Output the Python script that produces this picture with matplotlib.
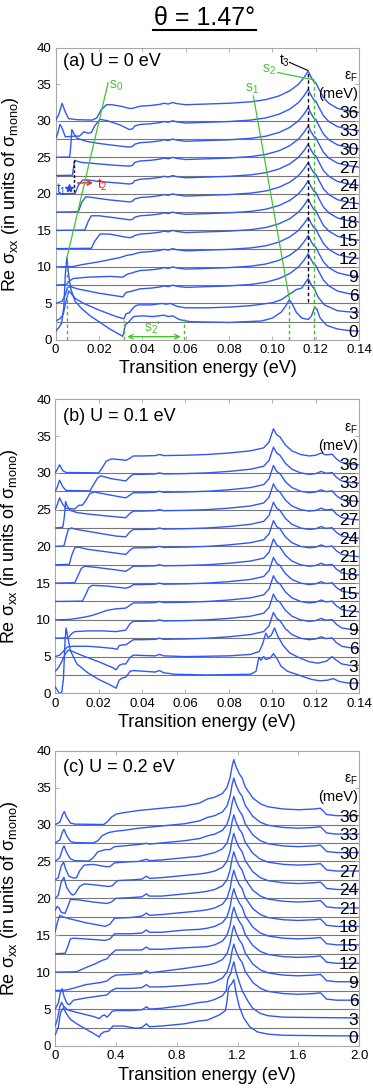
import matplotlib
matplotlib.use("Agg")
import matplotlib.pyplot as plt
from matplotlib.lines import Line2D

plt.rcParams['font.family'] = ['Liberation Sans', 'DejaVu Sans']
plt.rcParams['mathtext.fontset'] = 'custom'
plt.rcParams['mathtext.rm'] = 'Liberation Sans'
plt.rcParams['mathtext.it'] = 'Liberation Sans:italic'

# Fermi energies (meV), one curve each, stacked by 2.5 units
eps_f = [0, 3, 6, 9, 12, 15, 18, 21, 24, 27, 30, 33, 36]
step = 2.5

# ---------------- panel (a) U = 0 eV : (energy eV, Re sigma) ----------------
a0 = [(0, 1.2), (0.0015, 1.7), (0.0028, 2.3), (0.0038, 4.5), (0.0045, 9.0), (0.0052, 11.3),
      (0.006, 9.0), (0.007, 7.0), (0.009, 5.3), (0.012, 4.3), (0.016, 3.3), (0.02, 2.5),
      (0.025, 1.5), (0.031, 0.5), (0.0322, 2.1), (0.0335, 2.4), (0.035, 2.9), (0.036, 3.2)]
a3 = [(0, 0.1), (0.002, 0.4), (0.0035, 1.0), (0.0048, 2.8), (0.006, 4.2), (0.0068, 4.0),
      (0.009, 3.2), (0.013, 2.5), (0.02, 1.6), (0.028, 0.7), (0.0315, 0.4), (0.0325, 1.1),
      (0.034, 1.2), (0.035, 1.6), (0.0365, 2.1)]
a6 = [(0, 0), (0.003, 0.3), (0.0045, 1.2), (0.0055, 2.2), (0.007, 2.3), (0.01, 2.0),
      (0.02, 1.4), (0.031, 0.9), (0.0325, 1.5), (0.034, 1.6), (0.0355, 1.7)]
a9 = [(0, 0), (0.005, 0.1), (0.0065, 0.6), (0.008, 0.9), (0.015, 1.1), (0.025, 1.2),
      (0.031, 1.1), (0.033, 1.5), (0.0355, 1.7)]
a12 = [(0, 0), (0.008, 0.05), (0.012, 0.3), (0.016, 0.5), (0.02, 0.7), (0.025, 1.0),
       (0.03, 1.3), (0.033, 1.6), (0.0355, 1.7)]
a15 = [(0, 0), (0.0165, 0.05), (0.018, 1.0), (0.0205, 2.0), (0.025, 2.0), (0.03, 1.7),
       (0.034, 1.5), (0.0355, 1.6)]
a18 = [(0, 0), (0.0135, 0.05), (0.015, 1.2), (0.0165, 2.0), (0.02, 2.0), (0.028, 1.7),
       (0.034, 1.45), (0.0355, 1.5)]
a21 = [(0, 0), (0.0105, 0.05), (0.012, 1.3), (0.014, 2.1), (0.017, 2.0), (0.024, 1.7),
       (0.034, 1.4), (0.0355, 1.5)]
a24 = [(0, 0), (0.009, 0.05), (0.0105, 1.2), (0.0125, 1.9), (0.015, 1.9), (0.02, 1.7),
       (0.028, 1.5), (0.034, 1.35), (0.0355, 1.45)]
a27 = [(0, 0), (0.0078, 0.05), (0.0083, 1.2), (0.0088, 2.1), (0.0095, 2.0), (0.012, 1.8),
       (0.02, 1.6), (0.028, 1.4), (0.034, 1.3), (0.0355, 1.4)]
a30 = [(0, 0), (0.0065, 0.05), (0.007, 1.5), (0.0075, 3.8), (0.0085, 3.2), (0.01, 2.6),
       (0.014, 2.2), (0.02, 1.9), (0.028, 1.6), (0.034, 1.4), (0.0355, 1.5)]
a33 = [(0, 0), (0.001, 0.8), (0.002, 2.0), (0.003, 1.5), (0.0045, 0.3), (0.009, 0.4),
       (0.011, 0.4), (0.013, 1.0), (0.015, 0.8), (0.0165, 0.9), (0.018, 1.8), (0.0205, 2.7),
       (0.024, 2.5), (0.03, 1.9), (0.034, 1.3), (0.0355, 1.4)]
a36 = [(0, 0), (0.0015, 0.9), (0.003, 2.4), (0.0045, 1.2), (0.006, 0.3), (0.01, 0.15),
       (0.017, 0.1), (0.019, 0.4), (0.021, 1.5), (0.0235, 2.2), (0.026, 2.2), (0.03, 2.0),
       (0.034, 1.7), (0.0355, 1.7)]
a0_tail = [(0.04, 3.3), (0.045, 3.2), (0.05, 3.4), (0.052, 3.2), (0.054, 3.3), (0.057, 2.8),
           (0.062, 2.5), (0.08, 2.4), (0.095, 2.6), (0.1, 3.0), (0.104, 3.8), (0.106, 4.6),
           (0.1078, 5.5), (0.109, 5.0), (0.111, 3.8), (0.1135, 3.0), (0.1165, 2.8),
           (0.118, 3.3), (0.1195, 4.5), (0.1205, 4.2), (0.122, 3.0), (0.125, 2.0),
           (0.13, 1.5), (0.135, 1.3), (0.14, 1.2)]
a3_tail = [(0.038, 2.3), (0.044, 2.3), (0.049, 2.5), (0.051, 2.4), (0.053, 2.5), (0.056, 2.1),
           (0.06, 1.9), (0.07, 1.9), (0.08, 2.0), (0.09, 2.2), (0.1, 2.6), (0.104, 3.0),
           (0.107, 3.6), (0.111, 4.4), (0.1135, 4.6), (0.1155, 5.5), (0.1165, 5.9),
           (0.118, 5.0), (0.1195, 4.4), (0.121, 3.4), (0.124, 2.3), (0.13, 1.5),
           (0.135, 1.35), (0.14, 1.3)]
a_tail = [(0.0365, 1.8), (0.039, 2.0), (0.044, 2.1), (0.048, 2.25), (0.05, 2.4), (0.052, 2.3),
          (0.054, 2.5), (0.056, 2.35), (0.06, 2.2), (0.07, 2.3), (0.08, 2.4), (0.09, 2.6),
          (0.097, 2.9), (0.103, 3.4), (0.108, 4.1), (0.112, 5.0), (0.1145, 5.9),
          (0.1165, 6.8), (0.1178, 6.0), (0.119, 5.4), (0.12, 5.2), (0.1215, 4.3),
          (0.1235, 3.2), (0.126, 2.4), (0.13, 1.7), (0.135, 1.35), (0.14, 1.15)]

# ---------------- panel (b) U = 0.1 eV ----------------
b0 = [(0, 0.9), (0.001, 0.4), (0.002, 0.0), (0.003, 0.1), (0.0038, 2.0), (0.0045, 7.0),
      (0.005, 8.9), (0.0057, 7.8), (0.007, 5.8), (0.01, 4.0), (0.015, 2.8), (0.02, 1.9),
      (0.025, 1.2), (0.028, 0.7), (0.0295, 1.8), (0.031, 2.1), (0.0325, 2.2)]
b3 = [(0, 0.5), (0.0015, 1.0), (0.003, 1.8), (0.0045, 2.8), (0.006, 3.4), (0.008, 3.2),
      (0.012, 2.7), (0.02, 1.8), (0.0265, 1.0), (0.028, 0.7), (0.0295, 1.3), (0.031, 1.5),
      (0.0325, 1.5)]
b6 = [(0, 0), (0.002, 0.2), (0.004, 0.8), (0.0055, 1.3), (0.008, 1.4), (0.015, 1.4),
      (0.02, 1.3), (0.027, 1.1), (0.0285, 1.0), (0.0295, 1.5), (0.031, 1.6), (0.0325, 1.6)]
b9 = [(0, 0), (0.006, 0.05), (0.0075, 0.6), (0.009, 0.9), (0.015, 1.0), (0.022, 1.0),
      (0.028, 0.9), (0.0325, 1.1)]
b12 = [(0, 0), (0.006, 0.05), (0.01, 0.2), (0.014, 0.4), (0.017, 0.6), (0.02, 0.9),
       (0.024, 1.3), (0.028, 1.5), (0.0325, 1.6)]
b15 = [(0, 0), (0.0125, 0.05), (0.014, 0.9), (0.0155, 1.9), (0.017, 2.2), (0.024, 2.1),
       (0.0325, 1.8)]
b18 = [(0, 0), (0.009, 0.05), (0.0105, 1.0), (0.012, 2.0), (0.0135, 2.3), (0.02, 2.1),
       (0.028, 1.8), (0.0325, 1.6)]
b21 = [(0, 0), (0.0065, 0.05), (0.0075, 1.2), (0.009, 2.3), (0.0105, 2.4), (0.015, 2.1),
       (0.025, 1.7), (0.0325, 1.4)]
b24 = [(0, 0), (0.004, 0.05), (0.005, 1.2), (0.006, 2.3), (0.0075, 2.5), (0.01, 2.3),
       (0.02, 1.8), (0.028, 1.4), (0.0325, 1.3)]
b27 = [(0, 0), (0.0035, 0.1), (0.0042, 1.5), (0.0048, 3.6), (0.0055, 3.0), (0.007, 2.4),
       (0.01, 2.1), (0.015, 1.9), (0.025, 1.6), (0.0325, 1.4)]
b30 = [(0, 0), (0.001, 0.7), (0.002, 1.6), (0.0035, 0.7), (0.005, 0.15), (0.009, 0.1),
       (0.011, 0.6), (0.0125, 0.6), (0.014, 1.2), (0.016, 2.2), (0.018, 2.4), (0.025, 2.0),
       (0.0325, 1.6)]
b33 = [(0, 0), (0.001, 0.6), (0.002, 1.5), (0.0035, 0.6), (0.005, 0.1), (0.016, 0.05),
       (0.0175, 0.8), (0.0195, 1.8), (0.021, 2.1), (0.026, 1.7), (0.0325, 1.4)]
b36 = [(0, 0), (0.001, 0.5), (0.002, 1.1), (0.0035, 0.3), (0.005, 0.05), (0.02, 0.0),
       (0.0215, 0.6), (0.0235, 1.6), (0.026, 1.9), (0.03, 1.8), (0.0325, 1.7)]
b0_tail = [(0.0345, 3.0), (0.036, 3.1), (0.046, 2.9), (0.048, 3.1), (0.05, 2.8), (0.055, 2.6),
           (0.07, 2.5), (0.09, 2.6), (0.0925, 3.0), (0.0938, 4.9), (0.0948, 4.5), (0.096, 5.0),
           (0.097, 4.6), (0.099, 4.8), (0.1005, 5.4), (0.102, 4.8), (0.104, 3.7), (0.107, 3.0),
           (0.11, 2.7), (0.115, 2.2), (0.118, 1.9), (0.122, 1.7), (0.1255, 1.8), (0.128, 2.0),
           (0.131, 1.6), (0.135, 1.4), (0.14, 1.4)]
b3_tail = [(0.0345, 2.4), (0.036, 2.7), (0.046, 2.6), (0.048, 2.8), (0.05, 2.6), (0.06, 2.5),
           (0.08, 2.6), (0.09, 2.8), (0.094, 3.2), (0.0955, 4.2), (0.097, 5.7), (0.098, 5.1),
           (0.0995, 5.4), (0.101, 6.4), (0.1025, 5.3), (0.105, 4.0), (0.108, 3.0), (0.112, 2.4),
           (0.117, 1.8), (0.121, 1.6), (0.125, 1.9), (0.1275, 2.5), (0.129, 2.1), (0.132, 1.5),
           (0.136, 1.3), (0.14, 1.3)]
b_tail = [(0.0345, 2.0), (0.036, 2.3), (0.04, 2.3), (0.046, 2.35), (0.048, 2.5), (0.05, 2.35),
          (0.06, 2.4), (0.07, 2.5), (0.08, 2.7), (0.09, 3.0), (0.096, 3.4), (0.0985, 4.2),
          (0.1005, 6.0), (0.102, 5.2), (0.1035, 4.9), (0.106, 3.8), (0.109, 3.0), (0.113, 2.5),
          (0.117, 2.3), (0.12, 2.4), (0.1225, 2.7), (0.1245, 2.45), (0.1265, 2.5),
          (0.1275, 2.55), (0.1295, 1.9), (0.132, 1.4), (0.136, 1.2), (0.14, 1.1)]

# ---------------- panel (c) U = 0.2 eV ----------------
c0 = [(0, 1.5), (0.02, 2.5), (0.035, 4.5), (0.055, 5.2), (0.07, 4.5), (0.1, 3.6), (0.15, 2.9),
      (0.2, 2.3), (0.26, 1.6), (0.29, 1.2), (0.3, 1.6), (0.32, 1.9), (0.35, 2.0), (0.38, 2.7),
      (0.45, 2.7), (0.53, 2.4), (0.57, 2.5), (0.6, 3.0), (0.62, 2.6), (0.7, 2.7), (0.85, 3.0),
      (0.95, 3.4)]
c3 = [(0, 0.2), (0.015, 1.2), (0.03, 2.8), (0.042, 3.4), (0.055, 2.9), (0.08, 2.4),
      (0.15, 2.0), (0.25, 1.5), (0.29, 1.2), (0.31, 1.6), (0.325, 1.7), (0.34, 1.4),
      (0.355, 1.7), (0.375, 2.2), (0.4, 2.3), (0.5, 2.3), (0.57, 2.4), (0.6, 2.8), (0.62, 2.5),
      (0.7, 2.6), (0.85, 3.0), (0.95, 3.4)]
c6 = [(0, 0), (0.02, 0.8), (0.035, 2.3), (0.045, 2.75), (0.06, 1.6), (0.08, 0.7), (0.095, 0.6),
      (0.12, 1.2), (0.2, 1.5), (0.3, 1.8), (0.34, 1.9), (0.37, 2.5), (0.4, 2.8), (0.5, 2.8),
      (0.57, 2.9), (0.6, 3.3), (0.62, 3.0), (0.7, 3.0), (0.85, 3.2), (0.95, 3.4)]
c9 = [(0, 0), (0.08, 0.1), (0.15, 0.5), (0.2, 0.8), (0.3, 1.1), (0.34, 1.3), (0.37, 1.8),
      (0.4, 2.1), (0.5, 2.2), (0.57, 2.3), (0.6, 2.7), (0.62, 2.4), (0.7, 2.6), (0.85, 3.0),
      (0.95, 3.3)]
c12 = [(0, 0), (0.14, 0.05), (0.2, 0.6), (0.26, 1.1), (0.31, 1.6), (0.34, 1.8), (0.37, 2.5),
       (0.4, 3.0), (0.5, 3.0), (0.57, 3.0), (0.6, 3.4), (0.62, 3.1), (0.7, 3.1), (0.85, 3.3),
       (0.95, 3.4)]
c15 = [(0, 0), (0.065, 0.05), (0.08, 0.8), (0.1, 2.0), (0.12, 2.1), (0.2, 2.0), (0.33, 1.8),
       (0.36, 2.0), (0.39, 2.7), (0.5, 2.7), (0.57, 2.8), (0.6, 3.2), (0.62, 2.9), (0.7, 2.9),
       (0.85, 3.2), (0.95, 3.3)]
c18 = [(0, 0.5), (0.015, 1.8), (0.03, 2.7), (0.05, 2.5), (0.1, 2.2), (0.2, 1.7), (0.33, 1.2),
       (0.36, 1.5), (0.39, 2.3), (0.5, 2.4), (0.57, 2.6), (0.6, 3.0), (0.62, 2.7), (0.7, 2.8),
       (0.85, 3.1), (0.95, 3.3)]
c21 = [(0, 0.9), (0.013, 1.4), (0.025, 1.2), (0.04, 0.6), (0.065, 0.45), (0.085, 1.5),
       (0.1, 2.35), (0.15, 2.3), (0.25, 2.0), (0.34, 1.8), (0.37, 2.0), (0.4, 2.5), (0.5, 2.6),
       (0.57, 2.7), (0.6, 3.1), (0.62, 2.8), (0.7, 2.8), (0.85, 3.1), (0.95, 3.3)]
c24 = [(0, 0), (0.02, 0.4), (0.04, 2.2), (0.057, 2.85), (0.075, 1.5), (0.1, 0.7), (0.113, 0.45),
       (0.13, 0.6), (0.16, 1.6), (0.19, 1.95), (0.25, 1.85), (0.35, 1.6), (0.375, 1.7),
       (0.41, 2.4), (0.5, 2.5), (0.57, 2.6), (0.6, 3.0), (0.62, 2.7), (0.7, 2.8), (0.85, 3.1),
       (0.95, 3.3)]
c27 = [(0, 0), (0.02, 0.3), (0.04, 1.9), (0.055, 2.4), (0.07, 1.4), (0.09, 0.5), (0.12, 0.25),
       (0.14, 0.3), (0.16, 1.2), (0.19, 2.0), (0.25, 2.1), (0.33, 1.8), (0.36, 1.8), (0.39, 2.3),
       (0.45, 2.4), (0.55, 2.5), (0.6, 2.8), (0.62, 2.6), (0.7, 2.7), (0.85, 3.0), (0.95, 3.2)]
c30 = [(0, 0), (0.03, 0.5), (0.05, 1.8), (0.058, 2.1), (0.075, 1.2), (0.1, 0.35), (0.13, 0.1),
       (0.22, 0.05), (0.25, 0.5), (0.28, 1.3), (0.33, 1.6), (0.36, 1.6), (0.39, 2.0),
       (0.45, 2.1), (0.55, 2.3), (0.6, 2.45), (0.62, 2.35), (0.7, 2.5), (0.85, 2.8), (0.95, 3.1)]
c33 = [(0, 0), (0.03, 0.4), (0.05, 1.6), (0.058, 1.85), (0.075, 1.0), (0.1, 0.2), (0.13, 0.05),
       (0.25, 0.0), (0.28, 0.3), (0.31, 1.0), (0.35, 1.4), (0.4, 1.6), (0.45, 1.7), (0.55, 2.0),
       (0.6, 2.1), (0.7, 2.3), (0.85, 2.6), (0.95, 3.0)]
c36 = [(0, 0), (0.03, 0.3), (0.05, 1.4), (0.06, 1.75), (0.075, 1.0), (0.1, 0.2), (0.13, 0.05),
       (0.32, 0.0), (0.345, 0.4), (0.37, 1.0), (0.4, 1.4), (0.45, 1.6), (0.55, 1.9), (0.6, 2.0),
       (0.7, 2.2), (0.85, 2.5), (0.95, 2.9)]
c0_tail = [(1.0, 3.5), (1.08, 4.2), (1.12, 4.8), (1.13, 6.0), (1.14, 7.8), (1.15, 8.2),
           (1.16, 8.4), (1.175, 9.0), (1.19, 7.2), (1.21, 5.4), (1.24, 3.8), (1.28, 2.6),
           (1.33, 1.9), (1.4, 1.6), (1.5, 1.45), (1.7, 1.4), (2.0, 1.35)]
c3_tail = [(1.0, 3.5), (1.05, 3.8), (1.1, 4.3), (1.125, 5.0), (1.135, 6.5), (1.145, 7.0),
           (1.155, 7.3), (1.165, 8.2), (1.175, 8.9), (1.19, 7.5), (1.21, 6.2), (1.23, 5.0),
           (1.27, 3.5), (1.3, 2.6), (1.35, 1.9), (1.4, 1.6), (1.5, 1.4), (1.7, 1.35), (2.0, 1.3)]
c_tail = [(1.0, 3.45), (1.05, 3.7), (1.1, 4.2), (1.13, 5.0), (1.15, 6.3), (1.165, 8.0),
          (1.175, 8.8), (1.19, 7.8), (1.21, 6.9), (1.23, 6.3), (1.25, 5.1), (1.3, 3.6),
          (1.35, 2.8), (1.4, 2.4), (1.5, 2.1), (1.6, 2.0), (1.7, 2.1), (1.745, 2.2),
          (1.765, 1.8), (1.785, 1.35), (1.85, 1.2), (2.0, 1.2)]

a_heads = [a0, a3, a6, a9, a12, a15, a18, a21, a24, a27, a30, a33, a36]
b_heads = [b0, b3, b6, b9, b12, b15, b18, b21, b24, b27, b30, b33, b36]
c_heads = [c0, c3, c6, c9, c12, c15, c18, c21, c24, c27, c30, c33, c36]
a_tails = [a0_tail, a3_tail] + [a_tail] * 11
b_tails = [b0_tail, b3_tail] + [b_tail] * 11
c_tails = [c0_tail, c3_tail] + [c_tail] * 11

ab_xticks = [0, 0.02, 0.04, 0.06, 0.08, 0.10, 0.12, 0.14]
ab_xticklabels = ['0', '0.02', '0.04', '0.06', '0.08', '0.10', '0.12', '0.14']
c_xticks = [0, 0.4, 0.8, 1.2, 1.6, 2.0]
c_xticklabels = ['0', '0.4', '0.8', '1.2', '1.6', '2.0']
yticks = [0, 5, 10, 15, 20, 25, 30, 35, 40]

blue = '#3158f5'
green = '#45c42a'
frame = '#a8a8a8'

fig = plt.figure(figsize=(3.73, 10.9), dpi=100)
ax_a = fig.add_axes([0.149, 0.6881, 0.814, 0.2681])
ax_b = fig.add_axes([0.148, 0.3639, 0.815, 0.2697])
ax_c = fig.add_axes([0.148, 0.0404, 0.815, 0.2709])


def draw_panel(ax, heads, tails, xmax, xticks, xticklabels, tag, tag_y):
    for k in range(1, 13):
        ax.axhline(k * step, color='#777777', lw=0.8, zorder=1)
    for i, (h, t) in enumerate(zip(heads, tails)):
        pts = h + t
        xs = [p[0] for p in pts]
        ys = [p[1] + i * step for p in pts]
        ax.plot(xs, ys, color=blue, lw=1.0, zorder=3)
    tr = ax.get_yaxis_transform()
    for i, e in enumerate(eps_f):
        ax.text(0.997, i * step + 1.0, str(e), transform=tr, ha='right', va='center',
                fontsize=12.5, zorder=6)
    ax.text(0.997, 36.0, r'ε$_{\mathrm{F}}$', transform=tr, ha='right', va='center', fontsize=10)
    ax.text(0.997, 33.7, '(meV)', transform=tr, ha='right', va='center', fontsize=10.5)
    ax.text(0.025, tag_y, tag, transform=ax.transAxes, ha='left', va='center', fontsize=13)
    ax.set_xlim(0, xmax)
    ax.set_ylim(0, 40)
    ax.set_xticks(xticks)
    ax.set_xticklabels(xticklabels)
    ax.set_yticks(yticks)
    ax.tick_params(direction='in', length=3, width=0.6, color=frame, labelsize=9.5,
                   top=True, right=True, pad=3)
    for s in ax.spines.values():
        s.set_color(frame)
        s.set_linewidth(0.8)
    ax.set_xlabel('Transition energy (eV)', fontsize=13)
    ax.xaxis.set_label_coords(0.5, -0.07)
    ax.set_ylabel(r'Re σ$_{\mathrm{xx}}$ (in units of σ$_{\mathrm{mono}}$)', fontsize=13)
    ax.yaxis.set_label_coords(-0.115, 0.5)


draw_panel(ax_a, a_heads, a_tails, 0.14, ab_xticks, ab_xticklabels, '(a) U = 0 eV', 0.952)
draw_panel(ax_b, b_heads, b_tails, 0.14, ab_xticks, ab_xticklabels, '(b) U = 0.1 eV', 0.942)
draw_panel(ax_c, c_heads, c_tails, 2.0, c_xticks, c_xticklabels, '(c) U = 0.2 eV', 0.942)

# annotations in panel (a)
ax = ax_a
ax.plot([0.0052, 0.0242], [11.2, 35.2], color=green, lw=0.9, zorder=4)
ax.text(0.0245, 34.8, r's$_0$', color=green, fontsize=10, va='center')
ax.plot([0.0912, 0.1078], [33.4, 5.6], color=green, lw=0.9, zorder=4)
ax.text(0.0905, 34.4, r's$_1$', color=green, fontsize=10, ha='center', va='center')
ax.plot([0.1025, 0.1192], [36.6, 35.6], color=green, lw=0.9, zorder=4)
ax.text(0.0985, 37.0, r's$_2$', color=green, fontsize=10, ha='center', va='center')
for xv, ytop in [(0.0052, 10.5), (0.0315, 2.8), (0.0592, 2.9), (0.1078, 5.4), (0.1192, 35.6)]:
    ax.plot([xv, xv], [0, ytop], color=green, lw=1.0, ls=(0, (2.5, 2)), zorder=4)
ax.plot([0.1165, 0.1165], [5.2, 36.8], color='black', lw=1.0, ls=(0, (2.5, 2)), zorder=4)
ax.plot([0.1078, 0.1163], [38.0, 36.9], color='black', lw=0.8, zorder=4)
ax.text(0.1055, 38.2, r't$_3$', fontsize=10, ha='center', va='center')
ax.annotate('', xy=(0.0317, 0.45), xytext=(0.059, 0.45),
            arrowprops=dict(arrowstyle='<->', color=green, lw=1.0, mutation_scale=8))
ax.text(0.0445, 1.6, r"s$_2$'", color=green, fontsize=10, ha='center', va='center')
ax.text(0.0025, 20.5, r't$_1$', color='#2a4de0', fontsize=10, ha='center', va='center')
ax.plot([0.0063], [20.75], marker='*', color='#2a4de0', ms=6, zorder=5)
ax.plot([0.0083, 0.0083], [20.2, 24.6], color='black', lw=1.0, ls=(0, (2, 1.5)), zorder=4)
ax.annotate('', xy=(0.0185, 21.5), xytext=(0.0088, 21.5),
            arrowprops=dict(arrowstyle='->', color='#f02020', lw=1.0, mutation_scale=8))
ax.text(0.0192, 21.2, r't$_2$', color='#f02020', fontsize=10, ha='left', va='center')

# title
fig.text(0.548, 1 - 25 / 1090, 'θ = 1.47°', ha='center', va='baseline', fontsize=18)
fig.add_artist(Line2D([0.41, 0.686], [1 - 30 / 1090, 1 - 30 / 1090], color='black', lw=1.5,
                      transform=fig.transFigure))

fig.savefig('out.png', dpi=100)
